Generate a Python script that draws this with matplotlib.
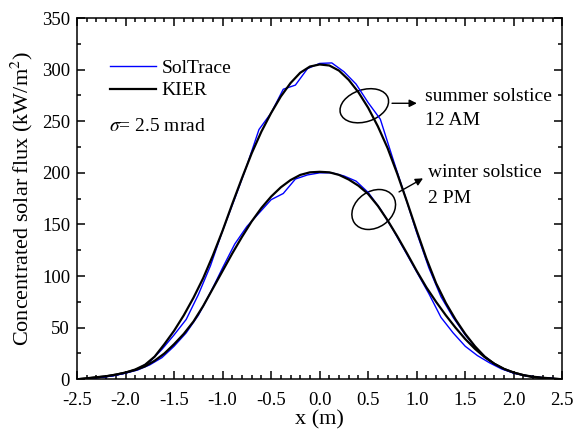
import matplotlib
matplotlib.use('Agg')
import matplotlib.pyplot as plt
import matplotlib.transforms as mtransforms
from matplotlib.patches import Ellipse
import numpy as np

plt.rcParams['font.family'] = ['Liberation Serif', 'DejaVu Serif']
plt.rcParams['mathtext.fontset'] = 'stix'

# KIER model, sampled every 0.1 m
x_kier = np.round(np.arange(-2.5, 2.501, 0.1), 2)
summer_kier = [0, 0.8, 1.8, 2.8, 4.5, 6.5, 9.5, 14, 22, 34,
               47, 62, 79, 98, 120, 144, 170, 195, 219, 240,
               258, 274, 287, 297, 303, 305, 304, 299, 290, 278,
               263, 245, 224, 199, 172, 144, 117, 93, 74, 58,
               44, 32, 22, 15, 10, 6.5, 4, 2, 1.2, 0.5, 0]
winter_kier = [0, 1, 2, 3, 4.5, 6.5, 9, 12.5, 18, 25,
               34, 44, 56, 71, 88, 105, 122, 138, 153, 166,
               177, 186, 193, 198, 200.5, 201, 200.5, 198, 193.5, 187.5,
               179.5, 168, 154, 138.5, 122, 105, 89, 75, 62, 50,
               39, 29.5, 21.5, 15, 10, 6.5, 4, 2.5, 1.5, 0.8, 0]

# SolTrace ray tracing, sampled every 0.125 m
x_sol = np.round(np.arange(-2.5, 2.501, 0.125), 3)
summer_sol = [0, 0.8, 2, 3.5, 6, 10, 17, 29, 43, 58,
              82, 110, 144, 175, 207, 242, 258, 281, 285, 301,
              306, 306.5, 298, 286, 268, 252, 215, 179, 142, 108,
              80, 60, 43, 29, 18, 11, 6, 3.5, 1.8, 0.8, 0]
winter_sol = [0, 0.8, 2, 3.5, 6, 9, 14, 21, 32, 45,
              62, 84, 108, 131, 148, 161, 174, 180, 194, 198,
              200, 200, 197, 192, 181, 165, 146, 125, 104, 83,
              60, 45, 32, 23, 16, 10, 6, 3.5, 2, 1, 0]

fig = plt.figure(figsize=(5.76, 4.32), dpi=100)
ax = fig.add_axes([0.1337, 0.122, 0.8425, 0.8363])

ax.plot(x_sol, summer_sol, color='#0000ff', lw=1.0, label='SolTrace')
ax.plot(x_kier, summer_kier, color='black', lw=1.6, label='KIER')
ax.plot(x_sol, winter_sol, color='#0000ff', lw=1.0)
ax.plot(x_kier, winter_kier, color='black', lw=1.6)

ax.set_xlim(-2.5, 2.5)
ax.set_ylim(0, 350)
ax.set_xticks(np.arange(-2.5, 2.51, 0.5))
ax.set_xticks(np.arange(-2.5, 2.51, 0.1), minor=True)
ax.set_yticks(np.arange(0, 351, 50))
ax.set_yticks(np.arange(0, 351, 25), minor=True)
ax.xaxis.set_major_formatter(plt.FormatStrFormatter('%.1f'))
ax.tick_params(which='both', direction='in', top=True, right=True,
               labelsize=13.5, width=1.1)
ax.tick_params(which='major', length=6)
ax.tick_params(which='minor', length=3.2)
ax.tick_params(axis='y', pad=5)
ax.tick_params(axis='x', pad=9)
for s in ax.spines.values():
    s.set_linewidth(1.1)

ax.set_xlabel('x (m)', fontsize=16, labelpad=1)
ax.set_ylabel('Concentrated solar flux (kW/m$^2$)', fontsize=16, labelpad=5)

ax.legend(loc='upper left', bbox_to_anchor=(0.068, 0.885), frameon=False,
          fontsize=14, borderpad=0, borderaxespad=0, handlelength=2.35,
          handletextpad=0.3, labelspacing=0.24)
ax.text(-2.167, 245, r'$\sigma$= 2.5 mrad', fontsize=14, va='center', ha='left')

# ellipses marking the two cases, drawn in inches so they are not squashed
for cx, cy, w, h, ang in [(0.46, 265, 0.50, 0.32, 18), (0.557, 164.5, 0.47, 0.36, 35)]:
    trans = fig.dpi_scale_trans + mtransforms.ScaledTranslation(cx, cy, ax.transData)
    ax.add_patch(Ellipse((0, 0), w, h, angle=ang, fill=False, lw=1.1,
                         ec='black', transform=trans, clip_on=False))

ax.annotate('', xy=(1.03, 267.4), xytext=(0.717, 267.4),
            arrowprops=dict(arrowstyle='-|>', color='black', lw=1.0, mutation_scale=11))
ax.annotate('', xy=(1.09, 196), xytext=(0.793, 180.2),
            arrowprops=dict(arrowstyle='-|>', color='black', lw=1.0, mutation_scale=11))

ax.text(1.085, 274.4, 'summer solstice', fontsize=14, va='center', ha='left')
ax.text(1.085, 250.5, '12 AM', fontsize=14, va='center', ha='left')
ax.text(1.113, 200.1, 'winter solstice', fontsize=14, va='center', ha='left')
ax.text(1.113, 175.3, '2 PM', fontsize=14, va='center', ha='left')

fig.savefig('out.png', dpi=100)
